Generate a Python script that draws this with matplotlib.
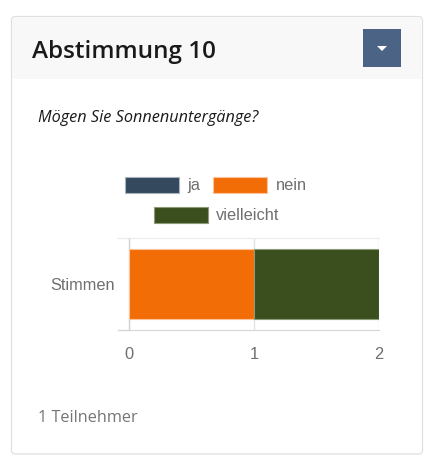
import matplotlib
matplotlib.use("Agg")
import matplotlib.pyplot as plt
from matplotlib.patches import FancyBboxPatch, Rectangle, Polygon

W, H = 436, 468

# donnees
categories = ["Stimmen"]
series_names = ["ja", "nein", "vielleicht"]
series_values = [[0], [1], [1]]
series_colors = ["#34495e", "#f36d06", "#3a4f1d"]
edge_colors = ["#a9b3bd", "#fbc39b", "#8c9a78"]
x_ticks = [0, 1, 2]
title = "Abstimmung 10"
question = "Mögen Sie Sonnenuntergänge?"
footer = "1 Teilnehmer"

fig = plt.figure(figsize=(W / 100, H / 100), dpi=100, facecolor="white")

# fond de la carte, en pixels
bg = fig.add_axes([0, 0, 1, 1])
bg.set_xlim(0, W)
bg.set_ylim(H, 0)
bg.axis("off")
bg.add_patch(FancyBboxPatch((11.5, 16.5), 411, 437.5, boxstyle="round,pad=0,rounding_size=4",
                            fc="white", ec="#e0e0e0", lw=0.9))
bg.add_patch(FancyBboxPatch((12.2, 17.2), 409.6, 61.8, boxstyle="round,pad=0,rounding_size=3",
                            fc="#f8f8f8", ec="none"))
bg.add_patch(Rectangle((12.2, 70), 409.6, 9, fc="#f8f8f8", ec="none"))
bg.add_patch(Rectangle((363, 29), 38, 38, fc="#4b6485", ec="none"))
bg.add_patch(Polygon([[377, 46], [387, 46], [382, 51]], fc="white", ec="none"))

bg.text(32, 51.5, title, family="Open Sans", weight="semibold", fontsize=17.5, color="#1a1a1a",
        va="center", ha="left")
bg.text(38, 118.5, question, family="Open Sans", style="italic", fontsize=11.7, color="#1a1a1a",
        va="center", ha="left")
bg.text(38, 418, footer, family="Open Sans", fontsize=11.7, color="#757575",
        va="center", ha="left")

# graphique
left, right, top, bottom = 129, 379, 238, 330
ax = fig.add_axes([left / W, 1 - bottom / H, (right - left) / W, (bottom - top) / H])
ax.patch.set_alpha(0)
handles = []
start = 0
for name, vals, col, ec in zip(series_names, series_values, series_colors, edge_colors):
    b = ax.barh(categories, vals, left=start, height=0.77, color=col, edgecolor=ec,
                linewidth=0.8, label=name, zorder=3)
    handles.append(b)
    start += vals[0]

ax.set_xlim(x_ticks[0], x_ticks[-1])
ax.set_ylim(-0.5, 0.5)
ax.set_xticks(x_ticks)
ax.grid(axis="x", color="#e3e3e3", lw=1, zorder=0)
for s in ["left", "right"]:
    ax.spines[s].set_visible(False)
ax.spines["top"].set_color("#ececec")
ax.spines["bottom"].set_color("#d6d6d6")
ax.tick_params(axis="x", length=0, pad=12, labelsize=11.8, labelcolor="#6f6f6f")
ax.tick_params(axis="y", length=0, pad=10.5, labelsize=11.8, labelcolor="#6f6f6f")
for lab in ax.get_xticklabels() + ax.get_yticklabels():
    lab.set_family("Liberation Sans")
ax.axvline(0, color="#d4d4d4", lw=1, zorder=2, clip_on=False)
# debord de la grille a gauche
bg.plot([118, left], [top, top], color="#ececec", lw=1)
bg.plot([118, left], [bottom, bottom], color="#d6d6d6", lw=1)

# legende sur deux lignes
leg_kw = dict(frameon=False, loc="upper left", borderpad=0, borderaxespad=0, handlelength=3.3,
              handleheight=1.1, handletextpad=0.5, columnspacing=0.8,
              prop={"family": "Liberation Sans", "size": 11.8}, labelcolor="#6f6f6f")
fig.legend(handles[:2], series_names[:2], ncols=2, bbox_to_anchor=(125 / W, 1 - 177 / H), **leg_kw)
fig.legend(handles[2:], series_names[2:], ncols=1, bbox_to_anchor=(154 / W, 1 - 207 / H), **leg_kw)

fig.savefig("out.png", dpi=100)
